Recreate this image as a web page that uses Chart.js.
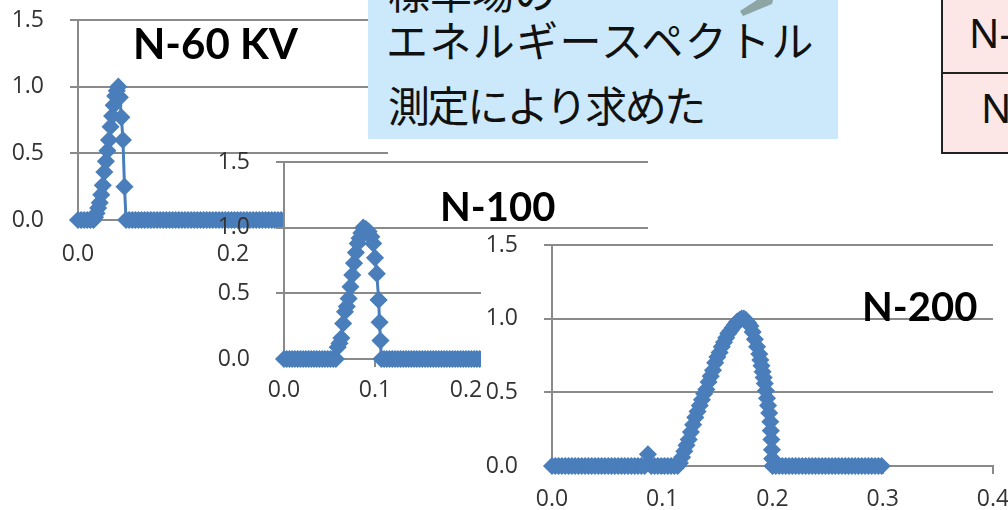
<!DOCTYPE html>
<html>
<head>
<meta charset="utf-8">
<script src="https://cdn.jsdelivr.net/npm/chart.js@4.4.1/dist/chart.umd.min.js"></script>
<style>
  html, body { margin: 0; padding: 0; }
  body { width: 1008px; height: 510px; overflow: hidden; position: relative; background: #fff; }
  canvas { position: absolute; }
  #n60 { left: 0; top: 0; width: 410px; height: 270px; }
  #n100 { left: 200px; top: 140px; width: 470px; height: 270px; }
  #n200 { left: 481px; top: 232px; width: 540px; height: 278px; }
  .title { position: absolute; font-family: Lato, 'DejaVu Sans', sans-serif; font-weight: 700;
           font-size: 40px; line-height: 1; color: #000; white-space: nowrap; }
  .note { position: absolute; left: 368px; top: 0; width: 470px; height: 139px; background: #cbe9fb; overflow: hidden; }
  .note div { position: absolute; font-family: 'Noto Sans CJK JP', sans-serif; font-size: 42px;
              line-height: 1; color: #111; white-space: nowrap; }
  .arrow { position: absolute; left: 0; top: 0; }
  .tbl { position: absolute; left: 941px; top: -10px; width: 120px; height: 164px; box-sizing: border-box;
         border: 2px solid #222; background: #fde6e6; }
  .tbl .rule { position: absolute; left: 0; right: 0; top: 80px; height: 2px; background: #222; }
  .tbl .cell { position: absolute; font-family: 'Noto Sans', sans-serif; font-size: 40px; line-height: 1;
               color: #111; white-space: nowrap; }
</style>
</head>
<body>
<canvas id="n60" width="410" height="270"></canvas>
<div class="title" style="left:133px; top:22px; font-size:42px;">N-60 KV</div>
<canvas id="n100" width="470" height="270"></canvas>
<div class="title" style="left:440px; top:186px;">N-100</div>
<canvas id="n200" width="540" height="278"></canvas>
<div class="title" style="left:862px; top:286px;">N-200</div>

<div class="note">
  <div style="left:20px; top:-30px;">標準場の</div>
  <div style="left:18px; top:18px; letter-spacing:1.4px;">エネルギースペクトル</div>
  <div style="left:20px; top:83px; letter-spacing:-2.4px;">測定により求めた</div>
</div>
<svg class="arrow" width="1008" height="20">
  <polygon points="740,11 757,0 773,0 772,4 743,16" fill="#8ea5a5"/>
</svg>
<div class="tbl">
  <div class="rule"></div>
  <div class="cell" style="left:26px; top:21px;">N-100</div>
  <div class="cell" style="left:38px; top:96px;">N-60</div>
</div>

<script>
// Tick positions shared by the three spectra
const yTickValues = [0, 0.5, 1.0, 1.5];
const n60XTicks = [0, 0.2, 0.4];
const wideXTicks = [0, 0.1, 0.2, 0.3, 0.4];

// N-60 KV: energy (MeV) and relative response
const n60Energy = [
  0, 0.004, 0.008, 0.012, 0.016, 0.020,
  0.022, 0.024, 0.026, 0.028, 0.030, 0.032, 0.034, 0.036, 0.038, 0.040,
  0.042, 0.044, 0.046, 0.048, 0.050, 0.052, 0.054, 0.056, 0.058, 0.060,
  0.062,
  0.066, 0.070, 0.074, 0.078, 0.082, 0.086, 0.090, 0.094, 0.098, 0.102,
  0.106, 0.110, 0.114, 0.118, 0.122, 0.126, 0.130, 0.134, 0.138, 0.142,
  0.146, 0.150, 0.154, 0.158, 0.162, 0.166, 0.170, 0.174, 0.178, 0.182,
  0.186, 0.190, 0.194, 0.198, 0.202, 0.206, 0.210, 0.214, 0.218, 0.222,
  0.226, 0.230, 0.234, 0.238, 0.242, 0.246, 0.250, 0.254, 0.258, 0.262,
  0.266, 0.270, 0.274, 0.278, 0.282, 0.286, 0.290, 0.294, 0.298
];
const n60Response = [
  0, 0, 0, 0, 0, 0,
  0.02, 0.05, 0.09, 0.13, 0.19, 0.26, 0.36, 0.44, 0.52, 0.60,
  0.70, 0.78, 0.86, 0.93, 0.97, 1.00, 0.92, 0.77, 0.60, 0.25,
  0,
  0, 0, 0, 0, 0, 0, 0, 0, 0, 0,
  0, 0, 0, 0, 0, 0, 0, 0, 0, 0,
  0, 0, 0, 0, 0, 0, 0, 0, 0, 0,
  0, 0, 0, 0, 0, 0, 0, 0, 0, 0,
  0, 0, 0, 0, 0, 0, 0, 0, 0, 0,
  0, 0, 0, 0, 0, 0, 0, 0, 0
];

// N-100
const n100Energy = [
  0, 0.003, 0.006, 0.009, 0.012, 0.015, 0.018, 0.021, 0.024, 0.027,
  0.030, 0.033, 0.036, 0.039, 0.042, 0.045, 0.048, 0.051, 0.054, 0.057,
  0.059, 0.061, 0.063, 0.065, 0.067, 0.069, 0.071, 0.073, 0.075, 0.077,
  0.079, 0.081, 0.083, 0.085, 0.087, 0.090, 0.093, 0.096, 0.098, 0.100,
  0.102, 0.104, 0.105, 0.106, 0.107,
  0.110, 0.113, 0.116, 0.119, 0.122, 0.125, 0.128, 0.131, 0.134, 0.137,
  0.140, 0.143, 0.146, 0.149, 0.152, 0.155, 0.158, 0.161, 0.164, 0.167,
  0.170, 0.173, 0.176, 0.179, 0.182, 0.185, 0.188, 0.191, 0.194, 0.197,
  0.200, 0.203, 0.206, 0.209, 0.212, 0.215, 0.218, 0.221, 0.224, 0.227,
  0.230, 0.233, 0.236, 0.239, 0.242, 0.245, 0.248, 0.251, 0.254, 0.257,
  0.260, 0.263, 0.266, 0.269, 0.272, 0.275, 0.278, 0.281, 0.284, 0.287,
  0.290, 0.293, 0.296, 0.299
];
const n100Response = [
  0, 0, 0, 0, 0, 0, 0, 0, 0, 0,
  0, 0, 0, 0, 0, 0, 0, 0, 0, 0,
  0.09, 0.12, 0.16, 0.27, 0.36, 0.40, 0.46, 0.55, 0.64, 0.73,
  0.81, 0.88, 0.92, 0.96, 1.00, 0.99, 0.97, 0.93, 0.88, 0.77,
  0.65, 0.45, 0.28, 0.14, 0,
  0, 0, 0, 0, 0, 0, 0, 0, 0, 0,
  0, 0, 0, 0, 0, 0, 0, 0, 0, 0,
  0, 0, 0, 0, 0, 0, 0, 0, 0, 0,
  0, 0, 0, 0, 0, 0, 0, 0, 0, 0,
  0, 0, 0, 0, 0, 0, 0, 0, 0, 0,
  0, 0, 0, 0, 0, 0, 0, 0, 0, 0,
  0, 0, 0, 0
];

// N-200
const n200Energy = [
  0, 0.003, 0.006, 0.009, 0.012, 0.015, 0.018, 0.021, 0.024, 0.027,
  0.030, 0.033, 0.036, 0.039, 0.042, 0.045, 0.048, 0.051, 0.054, 0.057,
  0.060, 0.063, 0.066, 0.069, 0.072, 0.075, 0.078, 0.081, 0.084,
  0.087,
  0.090, 0.093, 0.096, 0.099, 0.102, 0.105, 0.108, 0.111, 0.114,
  0.116, 0.118, 0.120, 0.122, 0.124, 0.126, 0.128, 0.130, 0.132, 0.134,
  0.136, 0.138, 0.140, 0.142, 0.144, 0.146, 0.148, 0.150, 0.152, 0.154,
  0.156, 0.158, 0.160, 0.162, 0.164, 0.166, 0.168, 0.170, 0.172, 0.174,
  0.176, 0.178, 0.180, 0.182, 0.184, 0.186, 0.188, 0.189, 0.190, 0.191,
  0.192, 0.193, 0.194, 0.195, 0.196, 0.197, 0.198, 0.1985, 0.199, 0.1995,
  0.1998, 0.200,
  0.203, 0.206, 0.209, 0.212, 0.215, 0.218, 0.221, 0.224, 0.227, 0.230,
  0.233, 0.236, 0.239, 0.242, 0.245, 0.248, 0.251, 0.254, 0.257, 0.260,
  0.263, 0.266, 0.269, 0.272, 0.275, 0.278, 0.281, 0.284, 0.287, 0.290,
  0.293, 0.296, 0.299
];
const n200Response = [
  0, 0, 0, 0, 0, 0, 0, 0, 0, 0,
  0, 0, 0, 0, 0, 0, 0, 0, 0, 0,
  0, 0, 0, 0, 0, 0, 0, 0, 0,
  0.08,
  0, 0, 0, 0, 0, 0, 0, 0, 0,
  0.02, 0.06, 0.10, 0.14, 0.18, 0.23, 0.28, 0.33, 0.37, 0.41,
  0.45, 0.49, 0.52, 0.57, 0.61, 0.65, 0.70, 0.74, 0.77, 0.81,
  0.84, 0.87, 0.90, 0.92, 0.94, 0.96, 0.98, 0.99, 1.00, 1.00,
  0.99, 0.97, 0.95, 0.91, 0.86, 0.81, 0.76, 0.72, 0.68, 0.64,
  0.60, 0.56, 0.51, 0.46, 0.41, 0.36, 0.30, 0.24, 0.18, 0.11,
  0.05, 0,
  0, 0, 0, 0, 0, 0, 0, 0, 0, 0,
  0, 0, 0, 0, 0, 0, 0, 0, 0, 0,
  0, 0, 0, 0, 0, 0, 0, 0, 0, 0,
  0, 0, 0
];

const GRID = '#8a8a8a';
const BLUE = '#4a7ebb';

Chart.defaults.font.family = "'Open Sans', sans-serif";
Chart.defaults.font.size = 23;
Chart.defaults.color = '#333333';

// Paints the plot area (or the whole chart) white before the axes are drawn
const areaFill = {
  id: 'areaFill',
  beforeDraw(chart, args, opts) {
    const { ctx, chartArea: a } = chart;
    ctx.save();
    ctx.fillStyle = '#ffffff';
    if (opts.whole) ctx.fillRect(0, 0, chart.width, chart.height);
    else ctx.fillRect(a.left, a.top, a.right - a.left, a.bottom - a.top);
    ctx.restore();
  }
};

function spectrumChart(id, energies, responses, xTicks, layout) {
  const points = energies.map((e, i) => ({ x: e, y: responses[i] }));
  return new Chart(document.getElementById(id), {
    type: 'scatter',
    data: {
      datasets: [{
        data: points,
        showLine: true,
        borderColor: BLUE,
        backgroundColor: BLUE,
        borderWidth: 3,
        pointStyle: 'rectRot',
        pointRadius: 8,
        pointBorderWidth: 1.5,
        pointBackgroundColor: BLUE,
        pointBorderColor: BLUE,
        tension: 0,
        clip: false
      }]
    },
    options: {
      responsive: false,
      animation: false,
      devicePixelRatio: 1,
      events: [],
      layout: { padding: layout.padding, autoPadding: false },
      plugins: {
        legend: { display: false },
        tooltip: { enabled: false },
        areaFill: { whole: layout.whole }
      },
      scales: {
        x: {
          type: 'linear',
          min: 0,
          max: xTicks[xTicks.length - 1],
          afterBuildTicks: s => { s.ticks = xTicks.map(v => ({ value: v })); },
          // fixed axis band; labels may overhang the plot edges
          afterFit: s => { s.height = layout.xAxisHeight; s.paddingLeft = 0; s.paddingRight = 0; },
          grid: { drawOnChartArea: false, drawTicks: true, tickLength: 8, color: GRID, lineWidth: 2 },
          border: { display: true, color: GRID, width: 2 },
          ticks: { padding: layout.xLabelPad, maxRotation: 0, autoSkip: false,
                   callback: v => Number(v).toFixed(1) }
        },
        y: {
          type: 'linear',
          min: 0,
          max: 1.5,
          afterBuildTicks: s => { s.ticks = yTickValues.map(v => ({ value: v })); },
          afterFit: s => { s.width = layout.yAxisWidth; s.paddingTop = 0; s.paddingBottom = 0; },
          grid: { drawTicks: true, tickLength: 8, color: GRID, lineWidth: 2 },
          border: { display: true, color: GRID, width: 2 },
          ticks: { padding: 26, autoSkip: false, callback: v => Number(v).toFixed(1) }
        }
      }
    },
    plugins: [areaFill]
  });
}

spectrumChart('n60', n60Energy, n60Response, n60XTicks, {
  padding: { left: 0, top: 20, right: 22, bottom: 0 },
  yAxisWidth: 78, xAxisHeight: 50, xLabelPad: 13, whole: false
});
spectrumChart('n100', n100Energy, n100Response, wideXTicks, {
  padding: { left: 0, top: 22, right: 22, bottom: 0 },
  yAxisWidth: 84, xAxisHeight: 51, xLabelPad: 10, whole: false
});
spectrumChart('n200', n200Energy, n200Response, wideXTicks, {
  padding: { left: 0, top: 13, right: 28, bottom: 0 },
  yAxisWidth: 71, xAxisHeight: 44, xLabelPad: 12, whole: true
});
</script>
</body>
</html>
